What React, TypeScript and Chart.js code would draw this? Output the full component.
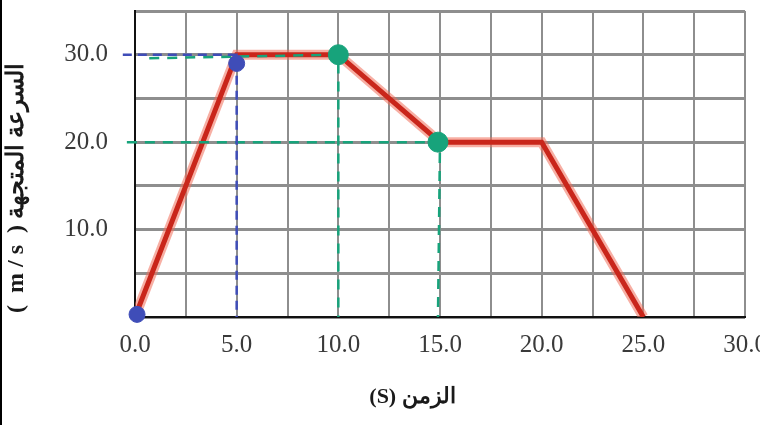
import React, { useEffect, useRef } from 'react';
import { Chart, registerables } from 'chart.js';

Chart.register(...registerables);

// ---- data ----
const timeValues = [0, 5, 10, 15, 20, 25];
const velocityValues = [0, 30, 30, 20, 20, 0];

const xTickValues = [0, 5, 10, 15, 20, 25, 30];
const xTickLabels = ['0.0', '5.0', '10.0', '15.0', '20.0', '25.0', '30.0'];
const yTickValues = [10, 20, 30];
const yTickLabels = ['10.0', '20.0', '30.0'];

const xTitle = '(S) الزمن';
const yTitle = '(  m / s  ) السرعة المتجهة';

// hand-drawn annotations (blue)
const blueGuideX = [-0.6, 5, 5];
const blueGuideY = [30, 30, 0];
const blueDotX = [0.1, 5];
const blueDotY = [0.3, 29];

// hand-drawn annotations (green)
const greenGuide1X = [0.7, 10, 10];
const greenGuide1Y = [29.6, 30, 0];
const greenGuide2X = [-0.4, 15, 14.9];
const greenGuide2Y = [20, 20, 0];
const greenDotX = [10, 14.9];
const greenDotY = [30, 20];

const zip = (xs: number[], ys: number[]) => xs.map((x, i) => ({ x, y: ys[i] }));

const BLUE = '#3f4db8';
const GREEN = '#17a37b';
const SERIF = "'Liberation Serif', 'DejaVu Serif', serif";

export default function App() {
  const ref = useRef<HTMLCanvasElement | null>(null);

  useEffect(() => {
    document.body.style.margin = '0';
    const canvas = ref.current!;
    const chart = new Chart(canvas, {
      type: 'line',
      data: {
        datasets: [
          {
            data: zip(blueDotX, blueDotY),
            showLine: false,
            pointRadius: 8,
            pointBackgroundColor: BLUE,
            pointBorderColor: BLUE,
            clip: false,
          } as any,
          {
            data: zip(greenDotX, greenDotY),
            showLine: false,
            pointRadius: 10,
            pointBackgroundColor: GREEN,
            pointBorderColor: GREEN,
            clip: false,
          } as any,
          {
            data: zip(blueGuideX, blueGuideY),
            borderColor: BLUE,
            borderWidth: 2.5,
            borderDash: [9, 6],
            pointRadius: 0,
            tension: 0,
            clip: false,
          } as any,
          {
            data: zip(greenGuide1X, greenGuide1Y),
            borderColor: GREEN,
            borderWidth: 2.5,
            borderDash: [10, 8],
            pointRadius: 0,
            clip: false,
          } as any,
          {
            data: zip(greenGuide2X, greenGuide2Y),
            borderColor: GREEN,
            borderWidth: 2.5,
            borderDash: [10, 8],
            pointRadius: 0,
            clip: false,
          } as any,
          {
            data: zip(timeValues, velocityValues),
            borderColor: '#c9261b',
            borderWidth: 5,
            pointRadius: 0,
            borderJoinStyle: 'miter',
          } as any,
          {
            data: zip(timeValues, velocityValues),
            borderColor: 'rgba(240,110,90,0.55)',
            borderWidth: 10,
            pointRadius: 0,
          } as any,
        ],
      },
      options: {
        responsive: false,
        animation: false,
        events: [],
        layout: { padding: { left: 0, top: 8, right: 35, bottom: 0 } },
        plugins: { legend: { display: false }, tooltip: { enabled: false } },
        scales: {
          x: {
            type: 'linear',
            min: 0,
            max: 30,
            afterFit: (s: any) => {
              s.height = 108;
              s.paddingLeft = 0;
              s.paddingRight = 0;
              s.paddingTop = 0;
              s.paddingBottom = 0;
            },
            ticks: {
              stepSize: 2.5,
              autoSkip: false,
              maxRotation: 0,
              padding: 13,
              color: '#3a3a3a',
              font: { family: SERIF, size: 25 },
              callback: (v: any) => {
                const i = xTickValues.indexOf(Number(v));
                return i >= 0 ? xTickLabels[i] : '';
              },
            },
            grid: { color: '#8e8e8e', lineWidth: 2, drawTicks: false },
            border: { color: '#111', width: 2 },
            title: {
              display: true,
              text: xTitle + '\u00A0'.repeat(10),
              color: '#1a1a1a',
              font: { family: SERIF, size: 22, weight: 'bold' },
              padding: { top: 0, bottom: 14 },
            },
          },
          y: {
            type: 'linear',
            min: 0,
            max: 35,
            afterFit: (s: any) => {
              s.width = 135;
              s.paddingLeft = 0;
              s.paddingRight = 0;
              s.paddingTop = 0;
              s.paddingBottom = 0;
            },
            ticks: {
              stepSize: 5,
              autoSkip: false,
              padding: 27,
              color: '#3a3a3a',
              font: { family: SERIF, size: 25 },
              callback: (v: any) => {
                const i = yTickValues.indexOf(Number(v));
                return i >= 0 ? yTickLabels[i] : '';
              },
            },
            grid: { color: '#8e8e8e', lineWidth: 3, drawTicks: false },
            border: { color: '#111', width: 2 },
            title: {
              display: true,
              text: yTitle + '\u00A0'.repeat(8),
              color: '#1a1a1a',
              font: { family: SERIF, size: 24, weight: 'bold' },
              padding: { top: 2, bottom: 0 },
            },
          },
        },
      } as any,
    });
    return () => chart.destroy();
  }, []);

  return (
    <div style={{ position: 'relative', width: 760, height: 425, overflow: 'hidden', background: '#fff' }}>
      <canvas ref={ref} width={780} height={425} style={{ display: 'block' }} />
      <div style={{ position: 'absolute', left: 0, top: 0, width: 2, height: 425, background: '#000' }} />
    </div>
  );
}
